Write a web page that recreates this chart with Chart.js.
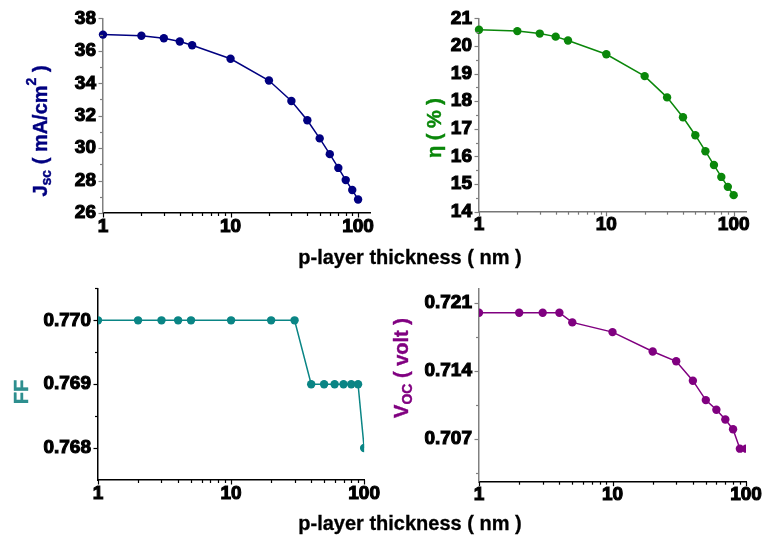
<!DOCTYPE html>
<html>
<head>
<meta charset="utf-8">
<script src="https://cdn.jsdelivr.net/npm/chart.js@4.4.0/dist/chart.umd.min.js"></script>
<style>
  html, body { margin:0; padding:0; background:#fff; }
  #wrap { position:relative; width:764px; height:540px; overflow:hidden; }
  canvas { position:absolute; }
  .xt { position:absolute; left:0; width:820px; text-align:center; font:bold 20px "Liberation Sans", Arial, sans-serif; color:#000; white-space:nowrap; -webkit-text-stroke:0.3px #000; }
</style>
</head>
<body>
<div id="wrap">
  <canvas id="c1" width="382" height="270" style="left:0;top:0;width:382px;height:270px"></canvas>
  <canvas id="c2" width="382" height="270" style="left:382px;top:0;width:382px;height:270px"></canvas>
  <canvas id="c3" width="382" height="270" style="left:0;top:270px;width:382px;height:270px"></canvas>
  <canvas id="c4" width="382" height="270" style="left:382px;top:270px;width:382px;height:270px"></canvas>
  <div class="xt" style="top:246px">p-layer thickness ( nm )</div>
  <div class="xt" style="top:512px">p-layer thickness ( nm )</div>
</div>
<script>
// ---- data ----
const thickness = [1, 2, 3, 4, 5, 10, 20, 30, 40, 50, 60, 70, 80, 90, 100];
const jsc = [37.00, 36.93, 36.78, 36.58, 36.34, 35.51, 34.17, 32.91, 31.72, 30.60, 29.63, 28.78, 28.03, 27.42, 26.83];
const eta = [20.59, 20.54, 20.45, 20.34, 20.20, 19.70, 18.91, 18.14, 17.42, 16.77, 16.19, 15.69, 15.26, 14.90, 14.60];
const ff = [0.770, 0.770, 0.770, 0.770, 0.770, 0.770, 0.770, 0.770, 0.769, 0.769, 0.769, 0.769, 0.769, 0.769, 0.768];
const voc = [0.720, 0.720, 0.720, 0.720, 0.719, 0.718, 0.716, 0.715, 0.713, 0.711, 0.710, 0.709, 0.708, 0.706, 0.706];

const xMajorTicks = [1, 10, 100];
const xMinorTicks = [2, 3, 4, 5, 6, 7, 8, 9, 20, 30, 40, 50, 60, 70, 80, 90];
const jscMajorTicks = [26, 28, 30, 32, 34, 36, 38];
const jscMinorTicks = [27, 29, 31, 33, 35, 37];
const etaMajorTicks = [14, 15, 16, 17, 18, 19, 20, 21];
const etaMinorTicks = [14.5, 15.5, 16.5, 17.5, 18.5, 19.5, 20.5];
const ffMajorTicks = [0.768, 0.769, 0.770];
const ffMinorTicks = [0.7685, 0.7695, 0.7705];
const vocMajorTicks = [0.707, 0.714, 0.721];
const vocMinorTicks = [0.7035, 0.7105, 0.7175];

const FONT = '"Liberation Sans", Arial, sans-serif';

// tick marks drawn from the library scales
const tickMarks = {
  id: 'tickMarks',
  afterDraw(chart, args, o) {
    const ctx = chart.ctx, sx = chart.scales.x, sy = chart.scales.y;
    ctx.save();
    ctx.lineWidth = 1.2;
    ctx.strokeStyle = o.xColor;
    const drawX = (vals, len) => vals.forEach(v => {
      if (v < sx.min || v > sx.max) return;
      const p = Math.round(sx.getPixelForValue(v)) + 0.5;
      ctx.beginPath(); ctx.moveTo(p, sx.top); ctx.lineTo(p, sx.top + len); ctx.stroke();
    });
    drawX(o.xMajor, 4.5); drawX(o.xMinor, 3);
    ctx.strokeStyle = o.yColor;
    const drawY = (vals, len) => vals.forEach(v => {
      const p = Math.round(sy.getPixelForValue(v)) + 0.5;
      ctx.beginPath(); ctx.moveTo(sy.right, p); ctx.lineTo(sy.right - len, p); ctx.stroke();
    });
    drawY(o.yMajor, 4.5); drawY(o.yMinor, 3);
    ctx.restore();
  }
};

// rotated y-axis title with sub/superscripts
const yTitle = {
  id: 'yTitle',
  afterDraw(chart, args, o) {
    const ctx = chart.ctx;
    ctx.save();
    ctx.translate(o.x, o.y);
    ctx.rotate(-Math.PI / 2);
    ctx.fillStyle = o.color;
    ctx.strokeStyle = o.color;
    ctx.lineWidth = 0.4;
    ctx.textBaseline = 'alphabetic';
    const fontFor = p => 'bold ' + ((p.sub || p.sup) ? 14 : 20) + 'px ' + FONT;
    let total = 0;
    o.parts.forEach(p => { ctx.font = fontFor(p); total += ctx.measureText(p.t).width; });
    let cx = -total / 2;
    o.parts.forEach(p => {
      ctx.font = fontFor(p);
      const dy = p.sub ? 11 : (p.sup ? -4 : 7);
      ctx.fillText(p.t, cx, dy);
      ctx.strokeText(p.t, cx, dy);
      cx += ctx.measureText(p.t).width;
    });
    ctx.restore();
  }
};

function makeChart(id, cfg) {
  const tickFont = { family: FONT, size: 19, weight: 'bold' };
  return new Chart(document.getElementById(id), {
    type: 'line',
    data: {
      labels: thickness,
      datasets: [{
        data: cfg.values.map((v, i) => ({ x: thickness[i], y: v })),
        borderColor: cfg.color,
        backgroundColor: cfg.color,
        borderWidth: 1.5,
        pointRadius: 4.2,
        pointBorderWidth: 0,
        pointBackgroundColor: cfg.color,
        tension: 0,
        clip: cfg.clip
      }]
    },
    options: {
      responsive: false,
      animation: false,
      devicePixelRatio: 1,
      layout: { padding: { left: 0, right: cfg.pad.right, top: cfg.pad.top, bottom: cfg.pad.bottom } },
      plugins: {
        legend: { display: false },
        tooltip: { enabled: false },
        tickMarks: { xMajor: xMajorTicks, xMinor: xMinorTicks, yMajor: cfg.yMajor, yMinor: cfg.yMinor, xColor: cfg.xAxisColor, yColor: cfg.yAxisColor },
        yTitle: cfg.title
      },
      scales: {
        x: {
          type: 'logarithmic', min: 1, max: cfg.xMax,
          afterBuildTicks: s => { s.ticks = xMajorTicks.map(v => ({ value: v })); },
          afterFit: s => { s.height = 40; },
          ticks: { font: tickFont, color: '#000', padding: 2, maxRotation: 0, autoSkip: false,
                   textStrokeColor: '#000', textStrokeWidth: 1.1, callback: v => String(v) },
          grid: { display: true, drawOnChartArea: false, drawTicks: false },
          border: { display: true, color: cfg.xAxisColor, width: 1.5 }
        },
        y: {
          type: 'linear', min: cfg.yMin, max: cfg.yMax,
          afterBuildTicks: s => { s.ticks = cfg.yMajor.map(v => ({ value: v })); },
          afterFit: s => { s.width = cfg.yWidth; },
          ticks: { font: tickFont, color: '#000', padding: 7, autoSkip: false,
                   textStrokeColor: '#000', textStrokeWidth: 1.1, callback: cfg.yFmt },
          grid: { display: true, drawOnChartArea: false, drawTicks: false },
          border: { display: true, color: cfg.yAxisColor, width: 1.5 }
        }
      }
    },
    plugins: [tickMarks, yTitle]
  });
}

makeChart('c1', {
  values: jsc, color: '#000080', clip: false, xMax: 124,
  yMin: 26, yMax: 38, yMajor: jscMajorTicks, yMinor: jscMinorTicks, yFmt: v => String(v),
  yWidth: 103, pad: { right: 12, top: 16, bottom: 17 },
  xAxisColor: '#000', yAxisColor: '#808080',
  title: { x: 40, y: 131, color: '#000080', parts: [{ t: 'J' }, { t: 'sc', sub: true }, { t: ' ( mA/cm' }, { t: '2', sup: true }, { t: ' )' }] }
});
makeChart('c2', {
  values: eta, color: '#0a870a', clip: false, xMax: 125,
  yMin: 14, yMax: 21, yMajor: etaMajorTicks, yMinor: etaMinorTicks, yFmt: v => String(v),
  yWidth: 97, pad: { right: 18, top: 16.7, bottom: 18.3 },
  xAxisColor: '#777', yAxisColor: '#808080',
  title: { x: 52, y: 128, color: '#0a870a', parts: [{ t: 'η ( % )' }] }
});
makeChart('c3', {
  values: ff, color: '#0a8585', clip: 0, xMax: 100,
  yMin: 0.7675, yMax: 0.7705, yMajor: ffMajorTicks, yMinor: ffMinorTicks, yFmt: v => v.toFixed(3),
  yWidth: 98, pad: { right: 16, top: 15.7, bottom: 20 },
  xAxisColor: '#000', yAxisColor: '#000',
  title: { x: 21, y: 122, color: '#2e8f8f', parts: [{ t: 'FF' }] }
});
makeChart('c4', {
  values: voc, color: '#800080', clip: 0, xMax: 100,
  yMin: 0.7026, yMax: 0.7225, yMajor: vocMajorTicks, yMinor: vocMinorTicks, yFmt: v => v.toFixed(3),
  yWidth: 97, pad: { right: 18, top: 17.3, bottom: 18.3 },
  xAxisColor: '#000', yAxisColor: '#808080',
  title: { x: 19, y: 98, color: '#800080', parts: [{ t: 'V' }, { t: 'OC', sub: true }, { t: ' ( volt )' }] }
});
</script>
</body>
</html>
